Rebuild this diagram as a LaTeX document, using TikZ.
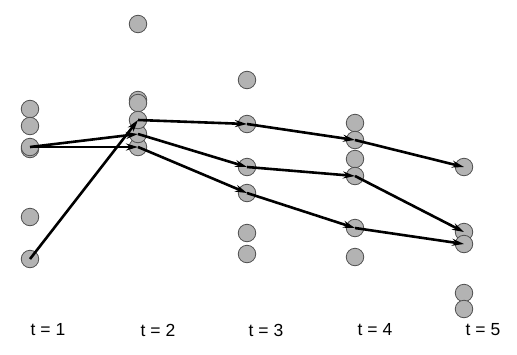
\documentclass[tikz,border=0pt]{standalone}
\usepackage{fontspec}
\setmainfont{Liberation Sans}
\usetikzlibrary{arrows.meta}
\definecolor{dotgray}{RGB}{179,179,179}
\definecolor{rimgray}{RGB}{80,80,80}
\begin{document}
\begin{tikzpicture}[
  x=1pt,y=-1pt,
  pt/.style={circle,draw=rimgray,fill=dotgray,line width=0.8pt,
             minimum size=17.5pt,inner sep=0pt},
  arr/.style={-{Stealth[length=12pt,width=7pt]},line width=2.6pt},
  lbl/.style={font=\fontsize{17.5}{20}\selectfont,anchor=center},
]
\useasboundingbox (0,0) rectangle (517,354);

%% States at t = 1
\node[pt] (s1a) at (30,109) {};
\node[pt] (s1b) at (30,126) {};
\node[pt] (s1c) at (30,149) {};
\node[pt] (s1d) at (30,147) {};
\node[pt] (s1e) at (30,217) {};
\node[pt] (s1f) at (30,259) {};

%% States at t = 2
\node[pt] (s2a) at (138,24) {};
\node[pt] (s2b) at (138,100) {};
\node[pt] (s2c) at (138,103) {};
\node[pt] (s2f) at (138,147) {};
\node[pt] (s2e) at (138,134) {};
\node[pt] (s2d) at (138,120) {};

%% States at t = 3
\node[pt] (s3a) at (247,80) {};
\node[pt] (s3b) at (247,124) {};
\node[pt] (s3c) at (247,167) {};
\node[pt] (s3d) at (247,193) {};
\node[pt] (s3e) at (247,233) {};
\node[pt] (s3f) at (247,254) {};

%% States at t = 4
\node[pt] (s4a) at (355,123) {};
\node[pt] (s4b) at (355,140) {};
\node[pt] (s4c) at (355,159) {};
\node[pt] (s4d) at (355,176) {};
\node[pt] (s4e) at (355,228) {};
\node[pt] (s4f) at (355,257) {};

%% States at t = 5
\node[pt] (s5a) at (464,167) {};
\node[pt] (s5b) at (464,232) {};
\node[pt] (s5c) at (464,244) {};
\node[pt] (s5d) at (464,293) {};
\node[pt] (s5e) at (464,309) {};

%% Time labels
\foreach \t/\x in {1/48,2/158,3/266,4/375,5/483}{
  \node[lbl] (t\t) at (\x,330) {t = \t};
}

%% Transitions t=1 -> t=2
\draw[arr] (s1d.center) -- (s2e.center);
\draw[arr] (s1d.center) -- (s2f.center);
\draw[arr] (s1f.center) -- (s2d.center);

%% Paths t=2 -> t=5
\draw[arr] (s2d.center) -- (s3b.center);
\draw[arr] (s3b.center) -- (s4b.center);
\draw[arr] (s4b.center) -- (s5a.center);

\draw[arr] (s2e.center) -- (s3c.center);
\draw[arr] (s3c.center) -- (s4d.center);
\draw[arr] (s4d.center) -- (s5b.center);

\draw[arr] (s2f.center) -- (s3d.center);
\draw[arr] (s3d.center) -- (s4e.center);
\draw[arr] (s4e.center) -- (s5c.center);

\end{tikzpicture}
\end{document}
